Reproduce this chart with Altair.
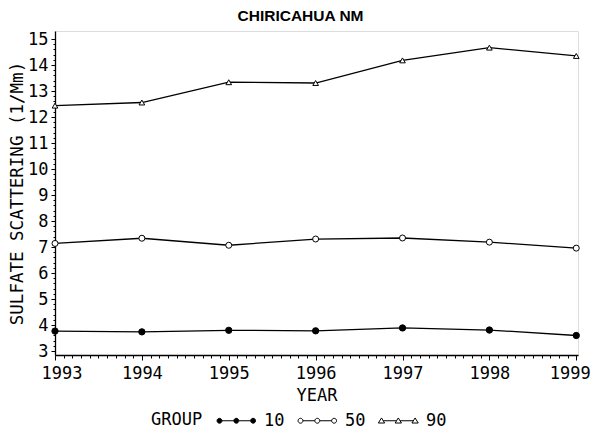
import altair as alt
import pandas as pd

# ---- data ----
years = [1993, 1994, 1995, 1996, 1997, 1998, 1999]
g10 = [3.77, 3.74, 3.80, 3.78, 3.89, 3.81, 3.60]
g50 = [7.14, 7.34, 7.07, 7.31, 7.35, 7.19, 6.96]
g90 = [12.44, 12.56, 13.34, 13.31, 14.18, 14.67, 14.35]
groups = ["10", "50", "90"]
y_major = list(range(3, 16))
x_major = years

rows = []
for g, vals in zip(groups, [g10, g50, g90]):
    for yr, v in zip(years, vals):
        rows.append({"YEAR": yr, "value": v, "GROUP": g})
df = pd.DataFrame(rows)

# tick positions (major + minor)
x_ticks = [round(1993 + i * 0.1, 1) for i in range(61)]
y_ticks = [round(3 + i * 0.2, 1) for i in range(61)]

FONT = "DejaVu Sans Mono"
IS_MAJOR = "abs(datum.value - round(datum.value)) < 0.01"

x_axis = alt.Axis(
    values=x_ticks,
    title="YEAR",
    labelExpr=f"{IS_MAJOR} ? format(datum.value, 'd') : ''",
    tickSize={"condition": {"test": IS_MAJOR, "value": 5}, "value": 3},
    labelFlush=5, labelFlushOffset=14, labelOverlap=False, grid=False,
    labelFont=FONT, labelFontSize=17, labelPadding=5, labelColor="black",
    titleFont=FONT, titleFontSize=17, titleFontWeight="normal", titleColor="black",
    titlePadding=6,
    domainColor="black", domainWidth=1.3, tickColor="black", tickWidth=1,
)
y_axis = alt.Axis(
    values=y_ticks,
    title="SULFATE SCATTERING (1/Mm)",
    labelExpr=f"{IS_MAJOR} ? format(datum.value, 'd') : ''",
    tickSize={"condition": {"test": IS_MAJOR, "value": 4}, "value": 2},
    labelFlush=False, labelOverlap=False, grid=False,
    labelFont=FONT, labelFontSize=17, labelPadding=3, labelColor="black",
    titleFont=FONT, titleFontSize=17.5, titleFontWeight="normal", titleColor="black",
    titlePadding=1,
    domainColor="black", domainWidth=1.3, tickColor="black", tickWidth=1,
)

X = alt.X("YEAR:Q", scale=alt.Scale(domain=[1993, 1999.02], nice=False, zero=False), axis=x_axis)
Y = alt.Y("value:Q", scale=alt.Scale(domain=[2.85, 15.31], nice=False, zero=False), axis=y_axis)

base = alt.Chart(df)

lines = base.mark_line(color="black", strokeWidth=1.3).encode(x=X, y=Y, detail="GROUP:N")

points = base.mark_point(filled=True, stroke="black", strokeWidth=1, opacity=1).encode(
    x=X, y=Y,
    shape=alt.Shape("GROUP:N", scale=alt.Scale(domain=groups, range=["circle", "circle", "triangle-up"]), legend=None),
    fill=alt.Fill("GROUP:N", scale=alt.Scale(domain=groups, range=["black", "white", "white"]), legend=None),
    size=alt.Size("GROUP:N", scale=alt.Scale(domain=groups, range=[40, 32, 52]), legend=None),
)

# legend glyphs: three markers joined by a line (unit = 3.5 px)
R = 0.7
CX = [0.0, 4.8, 9.6]


def circles_path():
    parts = []
    for cx in CX:
        parts.append(f"M {cx + R} 0 A {R} {R} 0 1 1 {cx - R} 0 A {R} {R} 0 1 1 {cx + R} 0 Z")
    for a, b in zip(CX[:-1], CX[1:]):
        parts.append(f"M {a + R} 0 L {b - R} 0")
    return " ".join(parts)


def triangles_path():
    parts = []
    for cx in CX:
        parts.append(f"M {cx} -0.8 L {cx + 0.9} 0.65 L {cx - 0.9} 0.65 Z")
    for a, b in zip(CX[:-1], CX[1:]):
        parts.append(f"M {a + 0.5} 0 L {b - 0.5} 0")
    return " ".join(parts)


legend_props = dict(
    title="GROUP", orient="none", legendX=96, legendY=381, direction="horizontal",
    titleOrient="left", titleFont=FONT, titleFontSize=17, titleFontWeight="normal",
    titleColor="black", titlePadding=8, titleBaseline="middle",
    labelFont=FONT, labelFontSize=17, labelColor="black", labelOffset=36,
    symbolSize=49, symbolStrokeWidth=1, symbolStrokeColor="black", columnPadding=7,
)

legend_layer = base.transform_filter("false").mark_point(
    filled=True, stroke="black", strokeWidth=1, opacity=1
).encode(
    shape=alt.Shape("GROUP:N", scale=alt.Scale(domain=groups, range=[circles_path(), circles_path(), triangles_path()]),
                    legend=alt.Legend(**legend_props)),
    fill=alt.Fill("GROUP:N", scale=alt.Scale(domain=groups, range=["black", "white", "white"]),
                  legend=alt.Legend(**legend_props)),
    stroke=alt.Stroke("GROUP:N", scale=alt.Scale(domain=groups, range=["black", "black", "black"]),
                      legend=alt.Legend(**legend_props)),
)

chart = alt.layer(lines, points, legend_layer).resolve_scale(
    shape="independent", fill="independent", size="independent", stroke="independent"
).properties(
    width=523, height=324,
    autosize=alt.AutoSizeParams(type="none"),
    padding={"left": 47, "top": 23, "right": 14, "bottom": 75},
    title=alt.Title("CHIRICAHUA NM", font="Liberation Sans", fontSize=15.5, fontWeight="bold",
                    color="black", anchor="middle", frame="group", dx=-16, offset=6),
).configure_view(stroke="black", strokeWidth=1.3).configure(background="white")

chart.save("out.html", embed_options={"renderer": "svg", "actions": False})
